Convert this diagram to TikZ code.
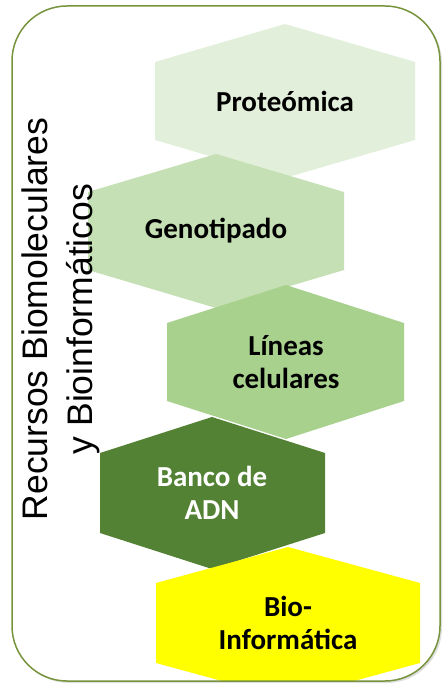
\documentclass[tikz,border=0pt]{standalone}
\usepackage{fontspec}
\setmainfont{Carlito}
\newfontfamily\arialfont{Liberation Sans}
\usepackage{tikz}
\usetikzlibrary{shadows}

\definecolor{prot}{HTML}{E2EFDA}
\definecolor{geno}{HTML}{C5E0B4}
\definecolor{linea}{HTML}{A9D18E}
\definecolor{banco}{HTML}{548235}
\definecolor{bioinf}{HTML}{FFFF00}
\definecolor{marco}{HTML}{77933C}

\tikzset{
  hexlabel/.style={align=center,inner sep=0pt,font=\fontsize{29}{33}\selectfont\bfseries},
  frameline/.style={draw=marco,line width=1.5pt,rounded corners=55pt}
}

\begin{document}
\begin{tikzpicture}[x=1pt,y=-1pt]
			\useasboundingbox (0,0) rectangle (443,684);
			\fill[white,rounded corners=55pt,drop shadow={shadow xshift=2pt,shadow yshift=-2pt,opacity=.25}] (12,6) rectangle (440,681);
			\begin{scope}
				\clip[rounded corners=55pt] (12,6) rectangle (440,681);
				\fill[prot] (285,24) -- (415,62) -- (415,140) -- (285,178) -- (155,140) -- (155,62) -- cycle;
				\node[hexlabel] (proteomica) at (285,101) {Proteómica};
				\fill[geno] (216,154) -- (344,192) -- (344,270) -- (216,308) -- (88,270) -- (88,192) -- cycle;
				\node[hexlabel] (genotipado) at (216,231) {Genotipado};
				\fill[linea] (286,285) -- (404,323) -- (404,401) -- (286,439) -- (167,401) -- (167,323) -- cycle;
				\node[hexlabel] (lineas) at (286,362) {Líneas\\celulares};
				\fill[banco] (212,417) -- (325,453) -- (325,533) -- (212,569) -- (100,533) -- (100,453) -- cycle;
				\node[hexlabel,text=white] (banco) at (212,493) {Banco de\\ADN};
				\fill[bioinf] (288,547) -- (420,583) -- (420,663) -- (288,699) -- (156,663) -- (156,583) -- cycle;
				\node[hexlabel] (bioinfo) at (288,623) {Bio-\\Informática};
			\end{scope}
			\draw[frameline] (12,6) rectangle (440,681);
			% titulo vertical
			\node[rotate=90,anchor=north,inner sep=0pt,align=center,font=\arialfont\fontsize{35.5}{45}\selectfont] (titulo) at (21.5,319) {Recursos Biomoleculares\\y Bioinformáticos};
		\end{tikzpicture}
\end{document}
